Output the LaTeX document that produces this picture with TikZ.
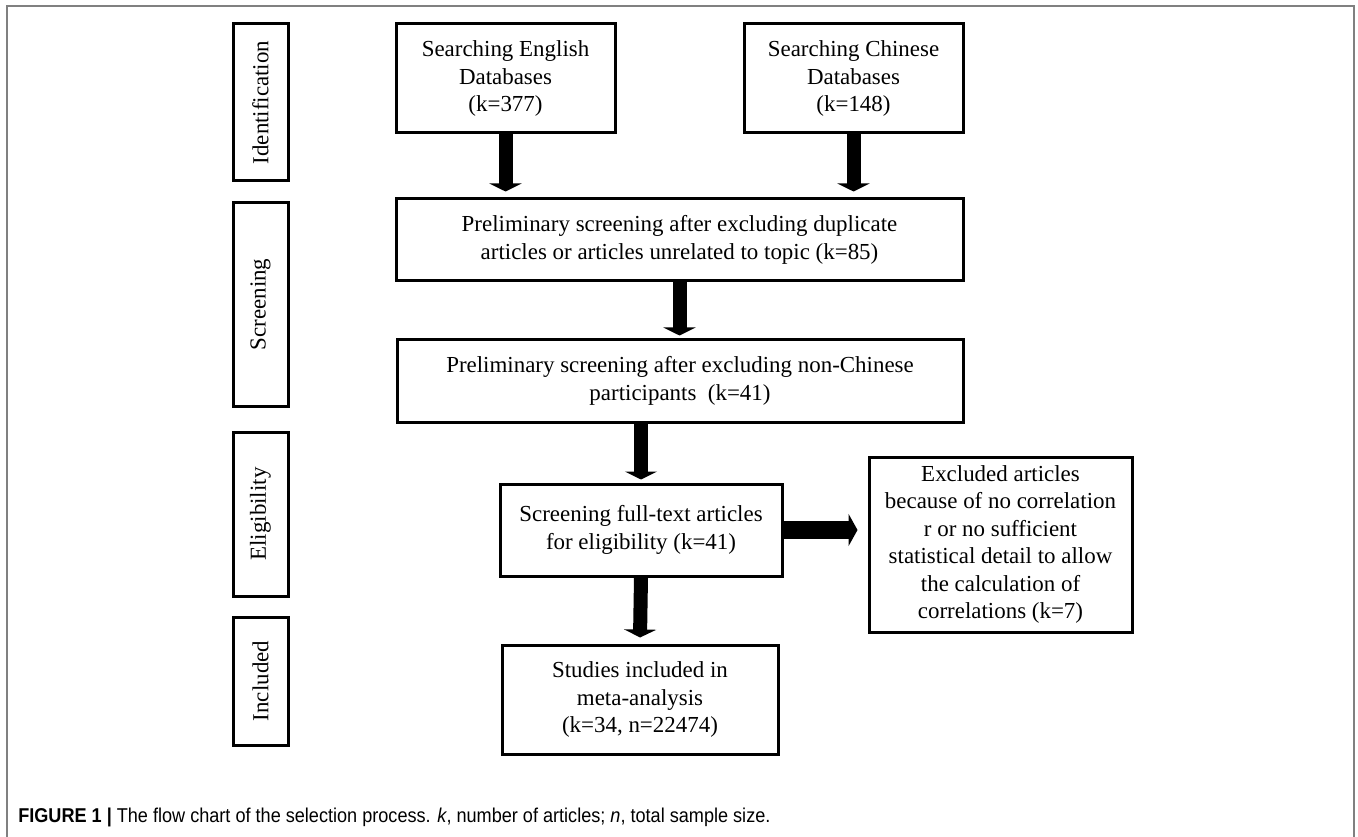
\documentclass[tikz,border=0pt]{standalone}
\usepackage{fontspec}
\setmainfont{Liberation Serif}
\newfontfamily\capfont{Liberation Sans}
\usetikzlibrary{arrows.meta}
\def\u{0.75pt}
\tikzset{
  box/.style={draw=black, line width=2.25pt, align=center, inner sep=0pt,
    font=\fontsize{17.2}{20.6}\selectfont},
  stage/.style={box, rotate=90},
  darr/.style={line width=10.5pt, -{Triangle[width=24pt,length=6pt]}},
  rarr/.style={line width=13.5pt, -{Triangle[width=24pt,length=6.75pt]}},
  frame/.style={draw=black!50, line width=1.5pt}
}
\begin{document}
\begin{tikzpicture}[x=0.75pt,y=-0.75pt]
\useasboundingbox (0,0) rectangle (1358,837);
\draw[frame] (7,837) -- (7,6) -- (1354,6) -- (1354,837);
% stage labels
\node[stage, minimum width=157*\u, minimum height=55*\u] (id) at (260.5,102.5) {Identification};
\node[stage, minimum width=203*\u, minimum height=55*\u] (scr) at (260.5,304.5) {Screening};
\node[stage, minimum width=164*\u, minimum height=55*\u] (eli) at (260.5,514) {Eligibility};
\node[stage, minimum width=128*\u, minimum height=55*\u] (inc) at (260.5,681) {Included};
% boxes
\node[box, minimum width=219*\u, minimum height=109*\u] (eng) at (505.5,78.5) {Searching English\\Databases\\(k=377)};
\node[box, minimum width=219*\u, minimum height=109*\u] (chi) at (853.5,78.5) {Searching Chinese\\Databases\\(k=148)};
\node[box, minimum width=567*\u, minimum height=82*\u] (p1) at (679.5,240) {Preliminary screening after excluding duplicate\\articles or articles unrelated to topic (k=85)};
\node[box, minimum width=566*\u, minimum height=82*\u] (p2) at (680,381) {Preliminary screening after excluding non-Chinese\\participants\ \ (k=41)};
\node[box, minimum width=282*\u, minimum height=92*\u] (ft) at (641,530) {Screening full-text articles\\for eligibility (k=41)};
\node[box, minimum width=263*\u, minimum height=175*\u] (ex) at (1000.5,544.5) {Excluded articles\\because of no correlation\\r or no sufficient\\statistical detail to allow\\the calculation of\\correlations (k=7)};
\node[box, minimum width=276*\u, minimum height=109*\u] (st) at (640,699.5) {Studies included in\\meta-analysis\\(k=34, n=22474)};
% arrows
\draw[darr] (eng.south) -- ([yshift=4.5pt]eng.south |- p1.north);
\draw[darr] (chi.south) -- ([yshift=4.5pt]chi.south |- p1.north);
\draw[darr] (p1.south) -- ([yshift=2.25pt]p1.south |- p2.north);
\draw[darr] (ft.north |- p2.south) -- ([yshift=2.25pt]ft.north);
\draw[darr] (ft.south) -- ([yshift=4.5pt]st.north);
\draw[rarr] (ft.east) -- ([xshift=-7.5pt]ft.east -| ex.west);
% caption
\node[anchor=base west, inner sep=0pt, font=\capfont\fontsize{15}{18}\selectfont] (cap) at (18,822)
  {\scalebox{0.905}[1]{\textbf{FIGURE 1 |} The flow chart of the selection process. \textit{k}, number of articles; \textit{n}, total sample size.}};
\end{tikzpicture}
\end{document}
